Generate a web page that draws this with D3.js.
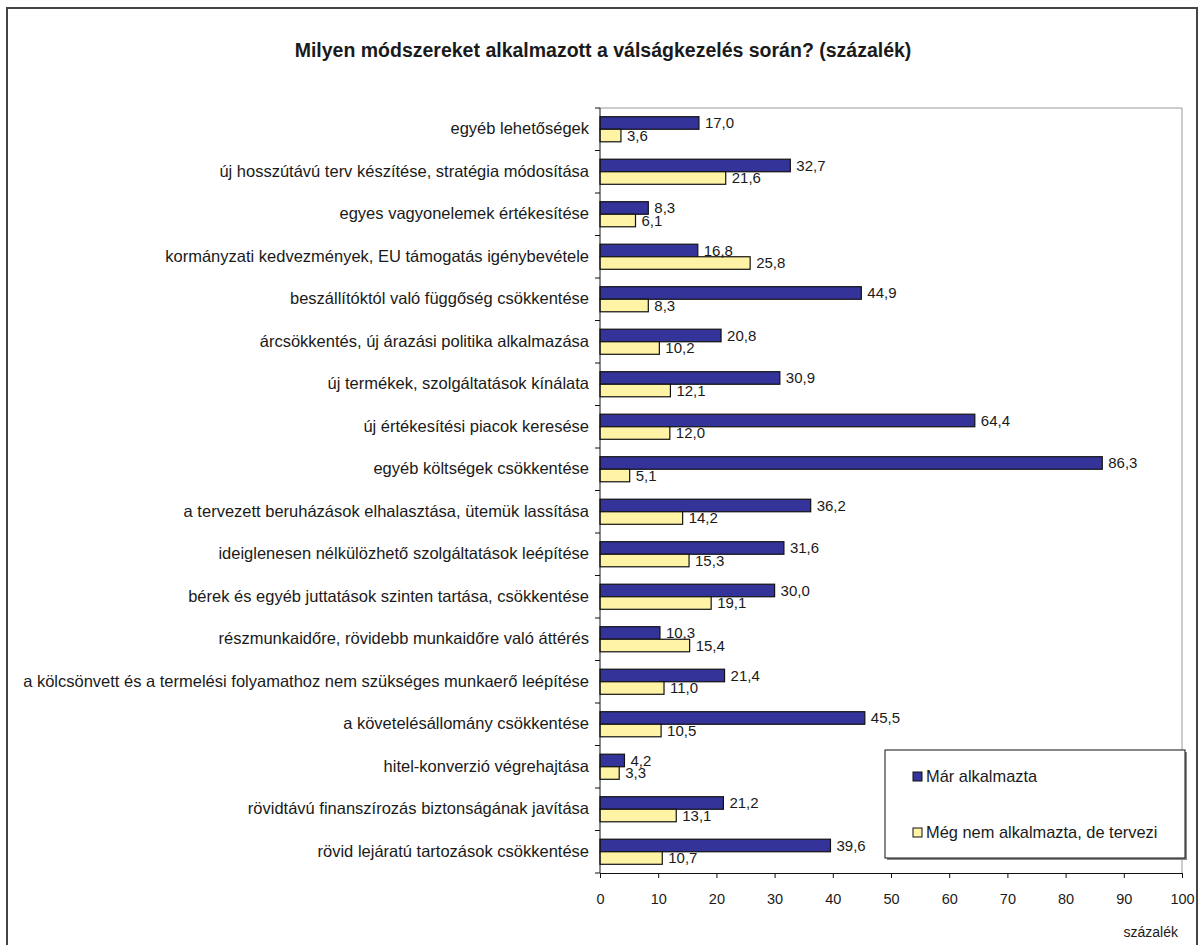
<!DOCTYPE html>
<html>
<head>
<meta charset="utf-8">
<script src="https://cdn.jsdelivr.net/npm/d3@7"></script>
<style>
  body { margin: 0; background: #fff; }
  svg text { font-family: 'Liberation Sans', Arial, sans-serif; fill: #1a1a1a; }
</style>
</head>
<body>
<svg id="chart" width="1199" height="945"></svg>
<script>
// Milyen módszereket alkalmazott a válságkezelés során?

const categories = [
  'egyéb lehetőségek',
  'új hosszútávú terv készítése, stratégia módosítása',
  'egyes vagyonelemek értékesítése',
  'kormányzati kedvezmények, EU támogatás igénybevétele',
  'beszállítóktól való függőség csökkentése',
  'árcsökkentés, új árazási politika alkalmazása',
  'új termékek, szolgáltatások kínálata',
  'új értékesítési piacok keresése',
  'egyéb költségek csökkentése',
  'a tervezett beruházások elhalasztása, ütemük lassítása',
  'ideiglenesen nélkülözhető szolgáltatások leépítése',
  'bérek és egyéb juttatások szinten tartása, csökkentése',
  'részmunkaidőre, rövidebb munkaidőre való áttérés',
  'a kölcsönvett és a termelési folyamathoz nem szükséges munkaerő leépítése',
  'a követelésállomány csökkentése',
  'hitel-konverzió végrehajtása',
  'rövidtávú finanszírozás biztonságának javítása',
  'rövid lejáratú tartozások csökkentése'
]

const marAlkalmazta = [17.0, 32.7, 8.3, 16.8, 44.9, 20.8, 30.9, 64.4, 86.3, 36.2, 31.6, 30.0, 10.3, 21.4, 45.5, 4.2, 21.2, 39.6]
const megNemDeTervezi = [3.6, 21.6, 6.1, 25.8, 8.3, 10.2, 12.1, 12.0, 5.1, 14.2, 15.3, 19.1, 15.4, 11.0, 10.5, 3.3, 13.1, 10.7]

const seriesNames = ['Már alkalmazta', 'Még nem alkalmazta, de tervezi']
const seriesColors = ['#333399', '#fff3a6']
const xTicks = [0, 10, 20, 30, 40, 50, 60, 70, 80, 90, 100]

const svg = d3.select('#chart')

const plotLeft = 600
const plotRight = 1182
const plotTop = 108
const plotBottom = 873

const fmt = (v) => v.toFixed(1).replace('.', ',')

// outer frame
svg.append('rect')
  .attr('x', 7).attr('y', 8)
  .attr('width', 1190).attr('height', 960)
  .attr('fill', 'none')
  .attr('stroke', '#444')
  .attr('stroke-width', 2)

svg.append('text')
  .attr('x', 603).attr('y', 57)
  .attr('text-anchor', 'middle')
  .attr('font-size', '19.5px')
  .attr('font-weight', 'bold')
  .text('Milyen módszereket alkalmazott a válságkezelés során? (százalék)')

const x = d3.scaleLinear().domain([0, 100]).range([plotLeft, plotRight])
const y = d3.scaleBand().domain(categories).range([plotTop, plotBottom])
  .paddingInner(0.41).paddingOuter(0.205)
const ySub = d3.scaleBand().domain([0, 1]).range([0, y.bandwidth()])

// plot area border (top / right)
svg.append('path')
  .attr('d', `M${plotLeft},${plotTop}H${plotRight}V${plotBottom}`)
  .attr('fill', 'none')
  .attr('stroke', '#999')
  .attr('stroke-width', 1)

const rows = categories.map((c, i) => ({ cat: c, vals: [marAlkalmazta[i], megNemDeTervezi[i]] }))

const group = svg.append('g').selectAll('g')
  .data(rows)
  .join('g')
  .attr('transform', d => `translate(0,${y(d.cat)})`)

group.selectAll('rect')
  .data(d => d.vals.map((v, k) => ({ v, k })))
  .join('rect')
  .attr('x', x(0))
  .attr('y', d => ySub(d.k))
  .attr('width', d => x(d.v) - x(0))
  .attr('height', ySub.bandwidth())
  .attr('fill', d => seriesColors[d.k])
  .attr('stroke', '#111')
  .attr('stroke-width', 1.2)

group.selectAll('text')
  .data(d => d.vals.map((v, k) => ({ v, k })))
  .join('text')
  .attr('x', d => x(d.v) + 6)
  .attr('y', d => ySub(d.k) + ySub.bandwidth() / 2)
  .attr('dy', '0.36em')
  .attr('font-size', '15px')
  .text(d => fmt(d.v))

// category axis
const boundaries = d3.range(categories.length + 1).map(i => plotTop + i * y.step())
svg.append('line')
  .attr('x1', plotLeft).attr('x2', plotLeft)
  .attr('y1', plotTop).attr('y2', plotBottom)
  .attr('stroke', '#111')
svg.append('g').selectAll('line')
  .data(boundaries)
  .join('line')
  .attr('x1', plotLeft - 5).attr('x2', plotLeft)
  .attr('y1', d => d).attr('y2', d => d)
  .attr('stroke', '#111')

svg.append('g').selectAll('text')
  .data(categories)
  .join('text')
  .attr('x', 589)
  .attr('y', d => y(d) + y.bandwidth() / 2 - 1)
  .attr('dy', '0.36em')
  .attr('text-anchor', 'end')
  .attr('font-size', '16.5px')
  .text(d => d)

// value axis
const xAxis = svg.append('g')
  .attr('transform', `translate(0,${plotBottom})`)
  .call(d3.axisBottom(x).tickValues(xTicks).tickSize(5).tickSizeOuter(0).tickPadding(16).tickFormat(d3.format('d')))
xAxis.select('.domain').attr('stroke', '#111')
xAxis.selectAll('.tick line').attr('stroke', '#111')
xAxis.selectAll('.tick text')
  .attr('font-size', '14.5px')
  .attr('fill', '#1a1a1a')
  .attr('font-family', "'Liberation Sans', Arial, sans-serif")

svg.append('text')
  .attr('x', 1178).attr('y', 937)
  .attr('text-anchor', 'end')
  .attr('font-size', '14px')
  .text('százalék')

// legend
const legend = svg.append('g').attr('transform', 'translate(885,750)')
legend.append('rect')
  .attr('x', 2).attr('y', 2)
  .attr('width', 300).attr('height', 108)
  .attr('fill', '#888')
legend.append('rect')
  .attr('width', 300).attr('height', 108)
  .attr('fill', '#fff')
  .attr('stroke', '#111')
  .attr('stroke-width', 1)

const legendItems = legend.selectAll('g.item')
  .data(seriesNames)
  .join('g')
  .attr('class', 'item')
  .attr('transform', (d, i) => `translate(28,${26 + i * 56})`)
legendItems.append('rect')
  .attr('x', 0).attr('y', -4)
  .attr('width', 9).attr('height', 9)
  .attr('fill', (d, i) => seriesColors[i])
  .attr('stroke', '#111')
legendItems.append('text')
  .attr('x', 13)
  .attr('y', 0)
  .attr('dy', '0.36em')
  .attr('font-size', '16.4px')
  .text(d => d)
</script>
</body>
</html>
